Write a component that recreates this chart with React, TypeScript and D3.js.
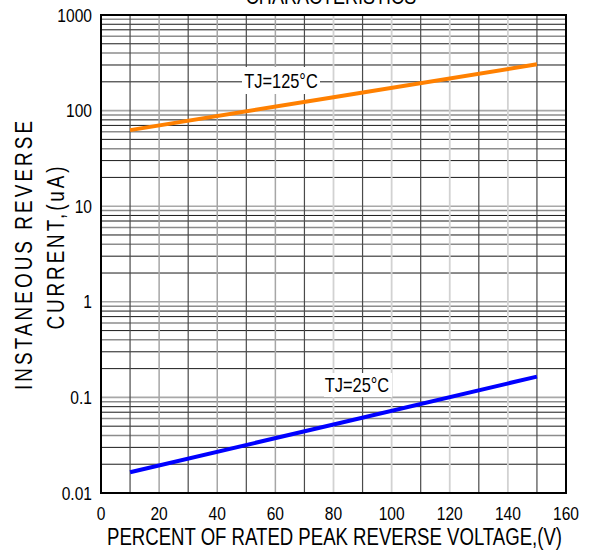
import React from "react";
import * as d3 from "d3";

const xTicks = [0, 20, 40, 60, 80, 100, 120, 140, 160];
const yTickLabels = ["0.01", "0.1", "1", "10", "100", "1000"];
const yTickValues = [0.01, 0.1, 1, 10, 100, 1000];
const xPercent = [10, 80, 150];
const tj125 = [62.5, 138, 305];
const tj25 = [0.0165, 0.052, 0.165];
const seriesNames = ["TJ=125°C", "TJ=25°C"];

const W = 591;
const H = 553;
const FONT = "'Liberation Sans', Arial, sans-serif";
const SX = 0.82;

type NProps = {
  x: number;
  y: number;
  rot?: number;
  size: number;
  anchor?: "start" | "middle" | "end";
  len?: number;
  adjust?: "spacing" | "spacingAndGlyphs";
  baseline?: string;
  children: React.ReactNode;
};

function NText({ x, y, rot = 0, size, anchor = "middle", len, adjust, baseline = "central", children }: NProps) {
  const extra: any = {};
  if (len) {
    extra.textLength = len / SX;
    extra.lengthAdjust = adjust || "spacing";
  }
  return (
    <text
      transform={`translate(${x},${y}) rotate(${rot}) scale(${SX},1)`}
      fontSize={size}
      textAnchor={anchor}
      dominantBaseline={baseline}
      fill="#000"
      {...extra}
    >
      {children}
    </text>
  );
}

export default function App() {
  const x = d3.scaleLinear().domain([0, 160]).range([101, 566]);
  const y = d3.scaleLog().domain([0.01, 1000]).range([493, 15]);

  const vLines = d3.range(10, 160, 10);
  const hLines: { v: number; m: number }[] = [];
  for (let e = -2; e < 3; e++) {
    for (let m = 1; m <= 9; m++) {
      const v = m * Math.pow(10, e);
      if (e > -2 || m > 1) hLines.push({ v, m });
    }
  }

  const line = d3
    .line<number>()
    .x((_, i) => x(xPercent[i]))
    .y((d) => y(d));

  const hStyle = (m: number) => {
    if (m === 1) return { stroke: "#a8a8a8", w: 1.6 };
    if (m === 4 || m === 6 || m === 9) return { stroke: "#8c8c8c", w: 1.5 };
    return { stroke: "#1a1a1a", w: 1 };
  };
  const vStyle = (v: number) => {
    if ((v / 10) % 2 === 1) return { stroke: "#4a4a4a", w: 1.2 };
    if (v <= 60) return { stroke: "#a6a6a6", w: 1.5 };
    return { stroke: "#d2d2d2", w: 1.8 };
  };

  const [x0, x1] = x.range();
  const [yb, yt] = y.range();

  return (
    <svg
      width={W}
      height={H}
      style={{ position: "absolute", left: 0, top: 0, background: "#fff" }}
      fontFamily={FONT}
    >
      <rect x={0} y={0} width={W} height={H} fill="#fff" />
      <NText x={331} y={4} size={22} baseline="alphabetic">
        CHARACTERISTICS
      </NText>

      {hLines.map(({ v, m }, i) => {
        const s = hStyle(m);
        return (
          <line key={"h" + i} x1={x0} x2={x1} y1={y(v)} y2={y(v)} stroke={s.stroke} strokeWidth={s.w} />
        );
      })}
      {vLines.map((v) => {
        const s = vStyle(v);
        return (
          <line key={"v" + v} x1={x(v)} x2={x(v)} y1={yt} y2={yb} stroke={s.stroke} strokeWidth={s.w} />
        );
      })}

      <path d={line(tj125) || ""} fill="none" stroke="#ff8000" strokeWidth={4} />
      <path d={line(tj25) || ""} fill="none" stroke="#0000ff" strokeWidth={4} />

      <rect x={242} y={67} width={78} height={27} fill="#fff" />
      <NText x={281} y={81} size={20}>
        {seriesNames[0]}
      </NText>
      <rect x={324} y={373} width={68} height={24} fill="#fff" />
      <NText x={357} y={385} size={20}>
        {seriesNames[1]}
      </NText>

      <rect x={x0} y={yt} width={x1 - x0} height={yb - yt} fill="none" stroke="#000" strokeWidth={2} />

      {xTicks.map((t) => (
        <NText key={"xt" + t} x={x(t)} y={513} size={19}>
          {t}
        </NText>
      ))}
      {yTickValues.map((t, i) => (
        <NText key={"yt" + t} x={92} y={y(t)} size={19} anchor="end">
          {yTickLabels[i]}
        </NText>
      ))}

      <NText x={334.5} y={537} size={23} len={455} adjust="spacingAndGlyphs">
        PERCENT OF RATED PEAK REVERSE VOLTAGE,(V)
      </NText>
      <NText x={24} y={255.5} rot={-90} size={23} len={269}>
        INSTANEOUS REVERSE
      </NText>
      <NText x={56} y={248} rot={-90} size={23} len={163}>
        CURRENT,(uA)
      </NText>
    </svg>
  );
}
